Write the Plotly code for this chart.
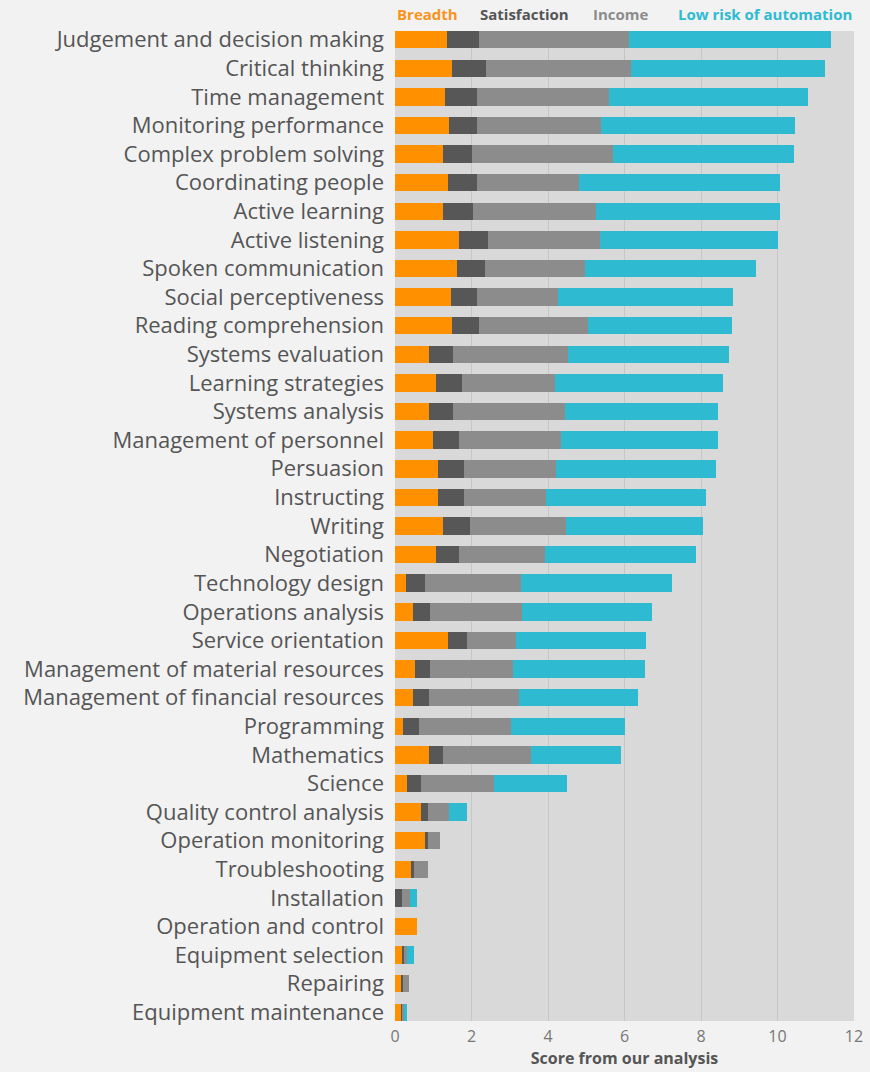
import plotly.graph_objects as go

skills = [
    "Judgement and decision making", "Critical thinking", "Time management",
    "Monitoring performance", "Complex problem solving", "Coordinating people",
    "Active learning", "Active listening", "Spoken communication",
    "Social perceptiveness", "Reading comprehension", "Systems evaluation",
    "Learning strategies", "Systems analysis", "Management of personnel",
    "Persuasion", "Instructing", "Writing", "Negotiation", "Technology design",
    "Operations analysis", "Service orientation", "Management of material resources",
    "Management of financial resources", "Programming", "Mathematics", "Science",
    "Quality control analysis", "Operation monitoring", "Troubleshooting",
    "Installation", "Operation and control", "Equipment selection", "Repairing",
    "Equipment maintenance",
]

# cumulative ends, converted to segment widths below
breadth_end = [1.35, 1.49, 1.31, 1.41, 1.25, 1.38, 1.25, 1.66, 1.63,
               1.46, 1.49, 0.90, 1.06, 0.90, 0.99, 1.13, 1.13, 1.26, 1.06, 0.29,
               0.46, 1.39, 0.53, 0.48, 0.21, 0.90, 0.32,
               0.67, 0.78, 0.42, 0.00, 0.57, 0.20, 0.17, 0.17]
satisfaction_end = [2.19, 2.37, 2.15, 2.15, 2.01, 2.15, 2.05, 2.43, 2.34,
                    2.15, 2.19, 1.52, 1.76, 1.52, 1.67, 1.80, 1.80, 1.95, 1.67, 0.78,
                    0.92, 1.87, 0.92, 0.89, 0.64, 1.26, 0.67,
                    0.85, 0.85, 0.49, 0.17, 0.57, 0.24, 0.21, 0.20]
income_end = [6.13, 6.16, 5.60, 5.39, 5.71, 4.80, 5.25, 5.36, 4.97,
              4.27, 5.05, 4.51, 4.17, 4.44, 4.34, 4.20, 3.96, 4.48, 3.93, 3.29,
              3.31, 3.16, 3.09, 3.24, 3.02, 3.56, 2.58,
              1.42, 1.18, 0.85, 0.39, 0.57, 0.31, 0.36, 0.24]
automation_end = [11.40, 11.23, 10.80, 10.45, 10.42, 10.07, 10.07, 10.00, 9.43,
                  8.83, 8.80, 8.72, 8.58, 8.44, 8.44, 8.40, 8.12, 8.06, 7.87, 7.24,
                  6.71, 6.57, 6.54, 6.34, 6.01, 5.90, 4.49,
                  1.87, 1.18, 0.85, 0.57, 0.57, 0.50, 0.36, 0.31]

breadth = breadth_end
satisfaction = [round(s - b, 2) for s, b in zip(satisfaction_end, breadth_end)]
income = [round(i - s, 2) for i, s in zip(income_end, satisfaction_end)]
automation = [round(a - i, 2) for a, i in zip(automation_end, income_end)]

series = [
    ("Breadth", breadth, "#FF9100"),
    ("Satisfaction", satisfaction, "#575757"),
    ("Income", income, "#8C8C8C"),
    ("Low risk of automation", automation, "#2EBBD1"),
]

fig = go.Figure()
for name, vals, col in series:
    fig.add_trace(go.Bar(
        y=skills, x=vals, name=name, orientation="h",
        marker=dict(color=col, line=dict(width=0)),
        showlegend=False,
    ))

FONT = "'Open Sans', sans-serif"

fig.update_layout(
    width=870, height=1072,
    barmode="stack", bargap=0.39,
    paper_bgcolor="#F2F2F2", plot_bgcolor="#D9D9D9",
    margin=dict(l=395, r=16, t=31, b=51, autoexpand=False),
    font=dict(family=FONT, color="#555555"),
    xaxis=dict(
        range=[0, 12], tickvals=[0, 2, 4, 6, 8, 10, 12],
        showgrid=True, gridcolor="#C6C6C6", gridwidth=1,
        zeroline=False, showline=False, automargin=False,
        tickfont=dict(size=16, color="#777777"),
        ticklabelstandoff=4,
        title=dict(text="<b>Score from our analysis</b>",
                   font=dict(size=16, color="#555555"), standoff=2),
    ),
    yaxis=dict(
        autorange=False, range=[len(skills) - 1 + 0.305, -0.305],
        showgrid=False, zeroline=False, showline=False, automargin=False,
        tickfont=dict(size=22, color="#555555"),
        ticklabelstandoff=10,
    ),
)

legend_items = [
    ("Breadth", "#F7941D", 0.0),
    ("Satisfaction", "#555555", 0.181),
    ("Income", "#8C8C8C", 0.427),
    ("Low risk of automation", "#2EBBD1", 1.0),
]
for text, col, xp in legend_items:
    anchor = "right" if xp == 1.0 else "left"
    fig.add_annotation(
        xref="paper", yref="paper", x=xp, y=1.0, yshift=5,
        xanchor=anchor, yanchor="bottom", showarrow=False,
        text=f"<b>{text}</b>", font=dict(size=15, color=col, family=FONT),
    )

fig.write_html(
    "out.html",
    config={"displayModeBar": False},
    post_script="document.body.style.margin='0';document.body.style.padding='0';document.body.style.overflow='hidden';",
)
